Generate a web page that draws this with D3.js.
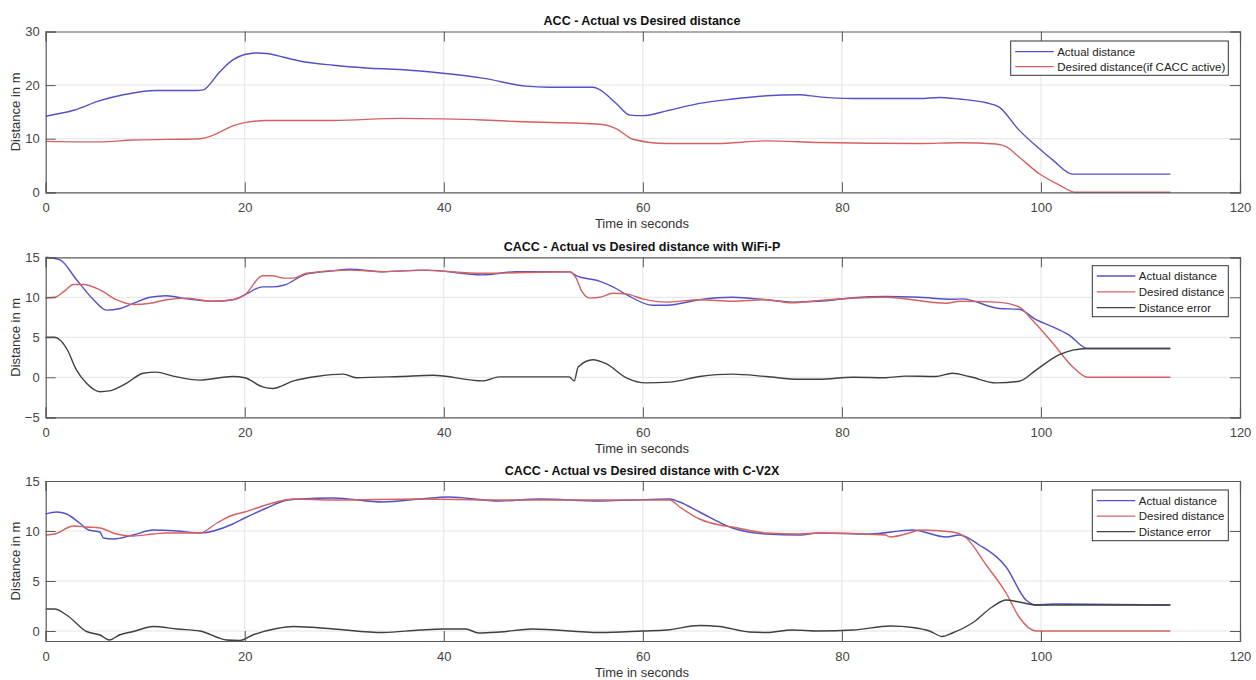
<!DOCTYPE html>
<html><head><meta charset="utf-8">
<script src="https://cdn.jsdelivr.net/npm/d3@7"></script>
<style>body{margin:0;background:#fff}svg{display:block;font-family:"Liberation Sans",Arial,sans-serif}</style>
</head><body><svg id="c" width="1256" height="680"></svg>
<script>
// ---------- data ----------
const xTicks = [0,20,40,60,80,100,120];
// Panel 1: ACC
const accTitle = "ACC - Actual vs Desired distance";
const accYTicks = [0,10,20,30];
const accActual = [[0,14.2],[2.8,15.3],[5.45,17.1],[7.8,18.2],[11.1,19.0],[15.2,19.0],[15.8,19.1],[17.5,22.5],[18.8,24.7],[20,25.7],[21.2,26.0],[22.2,25.9],[23.9,25.2],[25.5,24.5],[28.9,23.7],[32.2,23.2],[35.6,22.9],[39.9,22.2],[43.9,21.3],[48.3,19.8],[50.6,19.6],[55,19.6],[55.7,19.1],[57.3,16.6],[58.7,14.4],[60,14.3],[62.4,15.2],[65.7,16.6],[69,17.4],[72.4,18.0],[75.7,18.2],[77.7,17.8],[81.1,17.5],[87.8,17.5],[89.8,17.7],[91.8,17.4],[94.5,16.7],[95.8,15.9],[97.8,11.6],[99.8,8.2],[101.2,6.0],[103.2,3.4],[113,3.4]];
const accDesired = [[0,9.5],[5.45,9.4],[8.8,9.75],[15.5,10.0],[16.9,10.7],[18.8,12.4],[20,13.0],[22.2,13.4],[28.9,13.4],[35.6,13.8],[39.9,13.7],[43.9,13.5],[47.3,13.2],[55.7,12.7],[57.3,11.9],[59,9.9],[62.4,9.1],[67.4,9.1],[72.4,9.6],[77.7,9.3],[87.8,9.1],[91.8,9.25],[95.5,9.0],[96.5,8.5],[97.8,6.6],[99.8,3.5],[101.8,1.4],[103.5,0],[113,0]];
// Panel 2: WiFi-P
const wifiTitle = "CACC - Actual vs Desired distance with WiFi-P";
const wifiYTicks = [-5,0,5,10,15];
const wifiActual = [[0,15.0],[1.4,14.7],[3.1,12.2],[4.8,9.7],[6.1,8.4],[7.5,8.6],[8.8,9.25],[10.5,10.0],[12.1,10.2],[14.2,9.8],[16.8,9.5],[18.8,9.7],[20,10.3],[21.8,11.3],[22.8,11.3],[23.9,11.5],[26.2,12.9],[28.9,13.3],[30.6,13.5],[33.9,13.2],[38.3,13.4],[43.9,12.8],[47.3,13.2],[52.6,13.2],[53.3,12.7],[55.7,12.0],[57,11.3],[58.4,10.3],[61,9.0],[62.4,9.0],[65.7,9.7],[69,10.0],[72.4,9.7],[75,9.4],[77.7,9.5],[81.1,9.95],[84.4,10.1],[87.8,10.0],[91.1,9.75],[92.1,9.8],[95.8,8.6],[97.8,8.5],[99.5,7.2],[101.2,6.3],[102.8,5.3],[104.7,3.6],[113,3.6]];
const wifiDesired = [[0,9.95],[0.9,10.0],[1.8,10.7],[2.8,11.6],[3.8,11.6],[5.5,10.9],[7.1,9.7],[8.8,9.1],[10.5,9.25],[12.1,9.7],[14.2,9.9],[16.8,9.5],[18.8,9.7],[20,10.3],[21.8,12.7],[22.8,12.7],[23.9,12.4],[24.9,12.4],[26.2,13.0],[30.6,13.4],[33.9,13.2],[37.6,13.4],[43.9,13.0],[52.6,13.2],[53.3,12.4],[53.8,10.9],[54.7,9.9],[55.7,10.0],[57,10.5],[58.4,10.4],[60,9.8],[62.4,9.4],[65.7,9.7],[69,9.5],[72.4,9.7],[75,9.3],[77.7,9.6],[84.4,10.0],[90.5,9.25],[91.8,9.5],[95.5,9.4],[97.8,8.8],[99.1,7.2],[101.2,4.25],[103.2,1.3],[104.7,0],[113,0]];
const wifiError = [[0,5.0],[0.9,5.0],[2.1,3.6],[3.1,0.9],[4.1,-0.75],[5.45,-1.8],[6.4,-1.7],[8.1,-0.75],[9.8,0.5],[11.1,0.65],[12.8,0.15],[15.5,-0.35],[18.8,0.1],[20,-0.05],[21.8,-1.2],[22.8,-1.4],[24.9,-0.45],[27.2,0.1],[29.9,0.4],[31.2,-0.05],[35.6,0.1],[38.9,0.25],[43.9,-0.45],[45.6,0.05],[52.6,0.05],[53.1,-0.45],[53.5,1.3],[55,2.2],[56.3,1.7],[58.4,-0.1],[60.3,-0.7],[62.7,-0.6],[65.7,0.1],[69,0.4],[72.4,0.1],[75.7,-0.25],[77.7,-0.25],[81.1,0],[84.4,-0.05],[86.4,0.15],[89.4,0.1],[91.1,0.5],[92.8,0.1],[95.5,-0.7],[97.8,-0.5],[99.5,0.9],[101.8,2.8],[103.2,3.4],[104.7,3.6],[113,3.6]];
// Panel 3: C-V2X
const cv2xTitle = "CACC - Actual vs Desired distance with C-V2X";
const cv2xYTicks = [0,5,10,15];
const cv2xActual = [[0,11.7],[1.1,11.9],[2.1,11.7],[3.4,10.8],[4.3,10.1],[5.45,9.9],[5.8,9.3],[6.8,9.2],[8.8,9.6],[10.8,10.1],[13.2,10.0],[15.5,9.8],[18.8,10.7],[20,11.3],[22.2,12.3],[23.9,13.0],[25.5,13.2],[28.9,13.3],[33.9,12.9],[37.6,13.2],[40.5,13.4],[45.6,13.0],[49.6,13.2],[55.7,13.0],[59,13.1],[62.7,13.2],[63.7,12.9],[65.7,11.9],[69,10.3],[72.4,9.7],[75.7,9.6],[77.7,9.8],[82.8,9.7],[87.1,10.1],[90.5,9.4],[91.8,9.6],[93.8,8.6],[96.5,6.4],[98.5,3.1],[99.5,2.6],[101.2,2.7],[113,2.6]];
const cv2xDesired = [[0,9.6],[0.9,9.7],[2.8,10.5],[4.1,10.4],[5.45,10.3],[7.1,9.7],[8.8,9.5],[10.8,9.7],[12.1,9.8],[15.5,9.8],[17.2,10.8],[18.8,11.6],[20,11.9],[21.2,12.3],[22.8,12.8],[24.9,13.2],[28.9,13.1],[37.6,13.2],[45.6,13.1],[55.7,13.1],[62.7,13.1],[63.7,12.4],[65.7,11.2],[67.7,10.6],[69,10.4],[72.4,9.8],[75.7,9.7],[77.7,9.8],[84.4,9.6],[84.8,9.4],[87.1,9.9],[87.8,10.1],[91.1,9.9],[92.5,9.3],[94.5,6.6],[96.5,3.8],[97.8,1.4],[99.5,0],[113,0]];
const cv2xError = [[0,2.2],[0.9,2.2],[2.1,1.6],[4.1,-0.05],[5.45,-0.4],[6.4,-0.9],[7.4,-0.4],[8.8,-0.05],[10.8,0.45],[13.2,0.2],[15.5,0.0],[18.2,-0.9],[19.5,-0.95],[20.8,-0.4],[23.2,0.25],[24.9,0.45],[28.9,0.2],[33.9,-0.15],[37.6,0.1],[39.9,0.2],[42.2,0.2],[43.5,-0.2],[45.6,-0.1],[48.9,0.2],[55.7,-0.15],[60,0],[62.4,0.1],[65.7,0.55],[67.7,0.45],[70.7,-0.1],[72.4,-0.15],[75,0.1],[77.7,0],[81.1,0.1],[84.9,0.5],[87.1,0.35],[88.8,0],[90.1,-0.55],[91.1,-0.2],[93.1,0.8],[95.1,2.4],[96.5,3.1],[97.8,2.9],[99.5,2.6],[113,2.6]];
const legend1 = ["Actual distance","Desired distance(if CACC active)"];
const legend3 = ["Actual distance","Desired distance","Distance error"];
const xLabel = "Time in seconds", yLabel = "Distance in m";

// ---------- drawing ----------
const svg = d3.select("#c");
svg.append("rect").attr("width",1256).attr("height",680).attr("fill","#fff");
const COL = {blue:"#5252c6", red:"#d46262", black:"#404040"};
const X0 = 45.7, X1 = 1240;

const panels = [
  {title:accTitle, top:31.5, bot:192.3, dom:[0,30], yt:accYTicks,
   series:[[accActual,COL.blue],[accDesired,COL.red]], legend:legend1,
   lg:{x:1010.7,y:41,w:217.6,h:34.3,row0:51.7,dy:15}},
  {title:wifiTitle, top:257.3, bot:417.3, dom:[-5,15], yt:wifiYTicks,
   series:[[wifiActual,COL.blue],[wifiDesired,COL.red],[wifiError,COL.black]], legend:legend3,
   lg:{x:1092.3,y:265.7,w:136,h:51,row0:276,dy:15.8}},
  {title:cv2xTitle, top:481, bot:641, dom:[-1,15], yt:cv2xYTicks,
   series:[[cv2xActual,COL.blue],[cv2xDesired,COL.red],[cv2xError,COL.black]], legend:legend3,
   lg:{x:1092.3,y:490,w:136,h:50.7,row0:500.7,dy:15.5}}
];

panels.forEach(p=>{
  const x = d3.scaleLinear().domain([0,120]).range([X0,X1]);
  const y = d3.scaleLinear().domain(p.dom).range([p.bot,p.top]);
  const g = svg.append("g");
  // grid
  g.append("g").selectAll("line").data(xTicks.slice(1,-1)).join("line")
    .attr("x1",d=>x(d)).attr("x2",d=>x(d)).attr("y1",p.top).attr("y2",p.bot)
    .attr("stroke","#e4e4e4").attr("stroke-width",1);
  g.append("g").selectAll("line").data(p.yt.filter(v=>y(v)>p.top+1&&y(v)<p.bot-1)).join("line")
    .attr("x1",X0).attr("x2",X1).attr("y1",d=>y(d)).attr("y2",d=>y(d))
    .attr("stroke","#e4e4e4").attr("stroke-width",1);
  // lines
  const line = d3.line().x(d=>x(d[0])).y(d=>y(d[1])).curve(d3.curveMonotoneX);
  p.series.forEach(([data,c])=>{
    g.append("path").attr("d",line(data)).attr("fill","none").attr("stroke",c).attr("stroke-width",1.4);
  });
  // axes (MATLAB style: inner ticks, box)
  const ax = g.append("g").attr("transform",`translate(0,${p.bot})`)
    .call(d3.axisBottom(x).tickValues(xTicks).tickSize(-10).tickPadding(16).tickFormat(d3.format("d")));
  const axT = g.append("g").attr("transform",`translate(0,${p.top})`)
    .call(d3.axisTop(x).tickValues(xTicks).tickSize(-10).tickFormat(""));
  const ay = g.append("g").attr("transform",`translate(${X0},0)`)
    .call(d3.axisLeft(y).tickValues(p.yt).tickSize(-10).tickPadding(6).tickFormat(d3.format("d")));
  const ayR = g.append("g").attr("transform",`translate(${X1},0)`)
    .call(d3.axisRight(y).tickValues(p.yt).tickSize(-10).tickFormat(""));
  [ax,axT,ay,ayR].forEach(a=>{
    a.select(".domain").attr("stroke","#5a5a5a").attr("stroke-width",1.2);
    a.selectAll(".tick line").attr("stroke","#5a5a5a").attr("stroke-width",1);
    a.selectAll(".tick text").attr("fill","#444").attr("font-size",13).attr("font-family","Liberation Sans, Arial, sans-serif");
  });
  ax.selectAll(".tick text").attr("dy","0.35em").attr("y",15);
  // title
  svg.append("text").attr("x",642).attr("y",p.top-6.5).attr("text-anchor","middle")
    .attr("font-weight","bold").attr("font-size",12.5).attr("fill","#111").text(p.title);
  // x label
  svg.append("text").attr("x",642).attr("y",p.bot+36).attr("text-anchor","middle")
    .attr("font-size",13).attr("fill","#333").text(xLabel);
  // y label
  svg.append("text").attr("transform",`translate(15,${(p.top+p.bot)/2}) rotate(-90)`)
    .attr("text-anchor","middle").attr("dy","0.35em").attr("font-size",13).attr("fill","#333").text(yLabel);
  // legend
  const L = p.lg;
  const lg = svg.append("g");
  lg.append("rect").attr("x",L.x).attr("y",L.y).attr("width",L.w).attr("height",L.h)
    .attr("fill","#fff").attr("stroke","#333").attr("stroke-width",1);
  p.legend.forEach((t,i)=>{
    const yy = L.row0 + i*L.dy;
    lg.append("line").attr("x1",L.x+4.5).attr("x2",L.x+43).attr("y1",yy).attr("y2",yy)
      .attr("stroke",p.series[i][1]).attr("stroke-width",1.3);
    lg.append("text").attr("x",L.x+46.5).attr("y",yy).attr("dy","0.35em")
      .attr("font-size",11.5).attr("fill","#222").text(t);
  });
});
</script></body></html>
